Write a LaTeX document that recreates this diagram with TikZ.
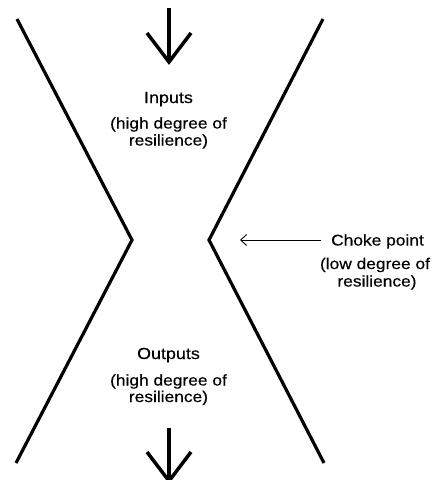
\documentclass[tikz,border=0pt]{standalone}
\usepackage{fontspec}
\setmainfont{Liberation Sans}[FakeStretch=1.12, FakeBold=0.35]
\usetikzlibrary{arrows.meta}

\tikzset{
  wall/.style={line width=3.2pt, line join=miter, line cap=butt},
  flowarrow/.style={line width=3.5pt, line join=miter, line cap=butt},
  pointer/.style={line width=0.9pt, -{Straight Barb[length=6pt,width=11pt,line width=0.9pt]}},
  label/.style={inner sep=0pt, anchor=base, font=\fontsize{15.5}{17.5}\selectfont},
  title/.style={label, font=\fontsize{16}{18}\selectfont}
}

\begin{document}
\begin{tikzpicture}[x=1pt, y=-1pt]
  \useasboundingbox (0,0) rectangle (435,480);

  % hourglass walls
  \coordinate (lt) at (17,19);
  \coordinate (lm) at (132,240);
  \coordinate (lb) at (16,463);
  \coordinate (rt) at (323,19);
  \coordinate (rm) at (209,240);
  \coordinate (rb) at (324,463);
  \draw[wall] (lt) -- (lm) -- (lb);
  \draw[wall] (rt) -- (rm) -- (rb);

  % inflow arrow
  \coordinate (inTop) at (169,8);
  \coordinate (inTip) at (169,62);
  \draw[flowarrow] (inTop) -- (inTip);
  \draw[flowarrow] (147,33) -- (inTip) -- (191,33);

  % outflow arrow
  \coordinate (outTop) at (169,428);
  \coordinate (outTip) at (169,481);
  \draw[flowarrow] (outTop) -- (outTip);
  \draw[flowarrow] (147,452) -- (outTip) -- (191,452);

  % labels
  \node[title] (inputs) at (168.5,103) {Inputs};
  \node[label] (inputsA) at (168.5,128.5) {(high degree of};
  \node[label] (inputsB) at (168.5,145.5) {resilience)};

  \node[title] (outputs) at (168.5,359) {Outputs};
  \node[label] (outputsA) at (168.5,385.5) {(high degree of};
  \node[label] (outputsB) at (168.5,402) {resilience)};

  \node[label, inner xsep=10pt] (choke) at (377.5,245.5) {Choke point};
  \node[label] (chokeA) at (375,269) {(low degree of};
  \node[label] (chokeB) at (377,286.5) {resilience)};

  % pointer to the narrowest point
  \coordinate (chokeTip) at (240,240);
  \draw[pointer] (choke.west |- 0,240) -- (chokeTip);
\end{tikzpicture}
\end{document}
